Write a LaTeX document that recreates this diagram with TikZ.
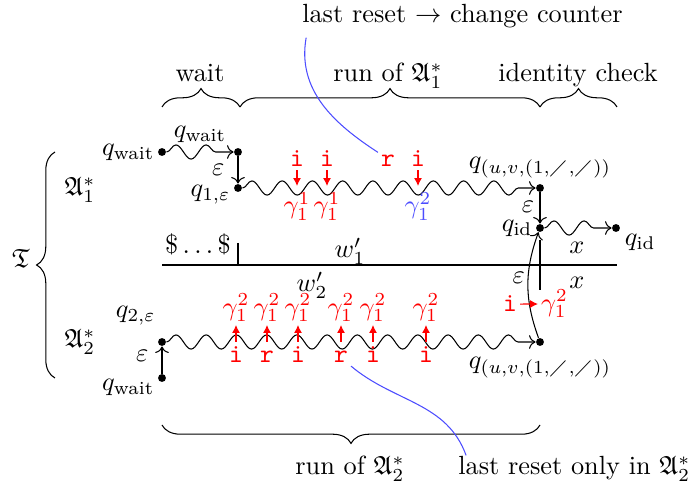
\documentclass[tikz,border=0pt]{standalone}
\usepackage{amsmath,amssymb}
\usepackage{xcolor}
\usepackage{tikz}
\usetikzlibrary{arrows.meta,positioning,decorations.pathmorphing,decorations.pathreplacing}

\tikzset{
  dot/.style={circle,fill,inner sep=0pt,minimum size=3pt},
  lbl/.style={inner sep=1pt},
  wave/.style={->,decorate,decoration={snake,amplitude=2.7pt,segment length=11.5pt,post length=1.5mm}},
  sym/.style={red,font=\ttfamily,inner sep=1pt,anchor=base},
  gam/.style={inner sep=1pt},
  redarr/.style={red,-{Latex[length=3pt,width=3pt]}},
  brc/.style={decorate,decoration={brace,amplitude=7pt}},
  note/.style={blue!70}
}

\begin{document}
\begin{tikzpicture}[x=0.01337cm,y=0.01337cm]
  \useasboundingbox (0,0) rectangle (694,485);
  % states of the two runs
  \node[dot] (wA) at (162,333) {};
  \node[dot] (wB) at (238,333) {};
  \node[dot] (q1e) at (238,297) {};
  \node[dot] (qf1) at (540,297) {};
  \node[dot] (qid) at (540,257) {};
  \node[dot] (qid2) at (616,257) {};
  \node[dot] (qw2) at (162,107) {};
  \node[dot] (q2e) at (162,143) {};
  \node[dot] (qf2) at (540,143) {};

  \node[lbl,left=0pt of wA] (lwA) {$q_{\text{wait}}$};
  \node[lbl,left=0pt of q1e,yshift=-2.5pt] (lq1e) {$q_{1,\varepsilon}$};
  \node[lbl,above=1pt of qf1] (lqf1) {$q_{(u,v,(1,\diagup,\diagup))}$};
  \node[lbl,left=0pt of qid] (lqid) {$q_{\text{id}}$};
  \node[lbl,below right=0pt and 1pt of qid2] (lqid2) {$q_{\text{id}}$};
  \node[lbl,above left=4pt and 0pt of q2e] (lq2e) {$q_{2,\varepsilon}$};
  \node[lbl,left=0pt of qw2,yshift=-3.5pt] (lqw2) {$q_{\text{wait}}$};
  \node[lbl,below=3pt of qf2] (lqf2) {$q_{(u,v,(1,\diagup,\diagup))}$};

  \draw[wave] (wA) -- node[lbl,above=2.5pt] (lwB) {$q_{\text{wait}}$} (wB);
  \draw[->] (wB) -- node[lbl,left=4pt] (e1) {$\varepsilon$} (q1e);
  \draw[wave] (q1e) -- (qf1);
  \draw[->] (qf1) -- node[lbl,pos=0.45,left=1pt] (e2) {$\varepsilon$} (qid);
  \draw[wave] (qid) -- (qid2);
  \draw[->] (qw2) -- node[lbl,pos=0.65,left=4pt] (e3) {$\varepsilon$} (q2e);
  \draw[wave] (q2e) -- (qf2);
  \draw[->] (qf2) to[bend left=20] node[lbl,pos=0.57,left] (e4) {$\varepsilon$} (qid);

  % tape
  \draw (162,220) -- (617,220);
  \draw (238,242) -- (238,220);
  \draw (540,245) -- (540,195);
  \node (dl) at (198,241) {$\$\dots\$$};
  \node (w1) at (350,234) {$w'_1$};
  \node (w2) at (312,200) {$w'_2$};
  \node (x1) at (577,237) {$x$};
  \node (x2) at (577,202) {$x$};

  % counter updates
  \foreach \x in {297,327,418}{
    \node[sym] (t\x) at (\x,318) {i};
    \coordinate (e\x) at (\x,299);
    \draw[redarr] (t\x) -- (e\x);
  }
  \node[sym] (tr) at (388,318) {r};
  \foreach \x in {297,327}
    \node[gam,red,anchor=north] (g\x) at (\x,296) {$\gamma_1^1$};
  \node[gam,blue!70,anchor=north] (g418) at (418,296) {$\gamma_1^2$};

  \foreach \x/\c in {236/i,267/r,298/i,341/r,373/i,426/i}{
    \node[sym] (b\x) at (\x,122) {\c};
    \coordinate (c\x) at (\x,143);
    \node[gam,red,anchor=south] (h\x) at (\x,160) {$\gamma_1^2$};
    \draw[redarr] (c\x) -- (h\x);
  }
  \node[sym] (ci) at (510,173) {i};
  \node[gam,red,anchor=west] (cg) at (538,181) {$\gamma_1^2$};
  \draw[redarr] (ci) -- (cg);

  % braces
  \draw[brc] (162,378) -- (240,378);
  \draw[brc] (240,378) -- (540,378);
  \draw[brc] (540,378) -- (617,378);
  \draw[brc] (540,60) -- (162,60);
  \draw[brc] (55,107) -- (55,333);
  \node[anchor=base] (lwait) at (200,403) {wait};
  \node[anchor=base] (lrun1) at (388,403) {run of $\mathfrak{A}_1^*$};
  \node[anchor=base] (lchk) at (578,403) {identity check};
  \node[anchor=base] (lrun2) at (350,10) {run of $\mathfrak{A}_2^*$};
  \node (T) at (21,227) {$\mathfrak{T}$};
  \node (A1) at (80,295) {$\mathfrak{A}_1^*$};
  \node (A2) at (80,143) {$\mathfrak{A}_2^*$};

  % remarks
  \node[anchor=base west] (ltop) at (293,462) {last reset $\rightarrow$ change counter};
  \node[anchor=base west] (lonly) at (449,10) {last reset only in $\mathfrak{A}_2^*$};
  \draw[note] ([xshift=5pt]ltop.south west) to[out=-100,in=147] (tr.north west);
  \draw[note] (b341.south east) to[out=-40,in=110] ([xshift=6.5pt,yshift=-3pt]lonly.north west);
\end{tikzpicture}
\end{document}
